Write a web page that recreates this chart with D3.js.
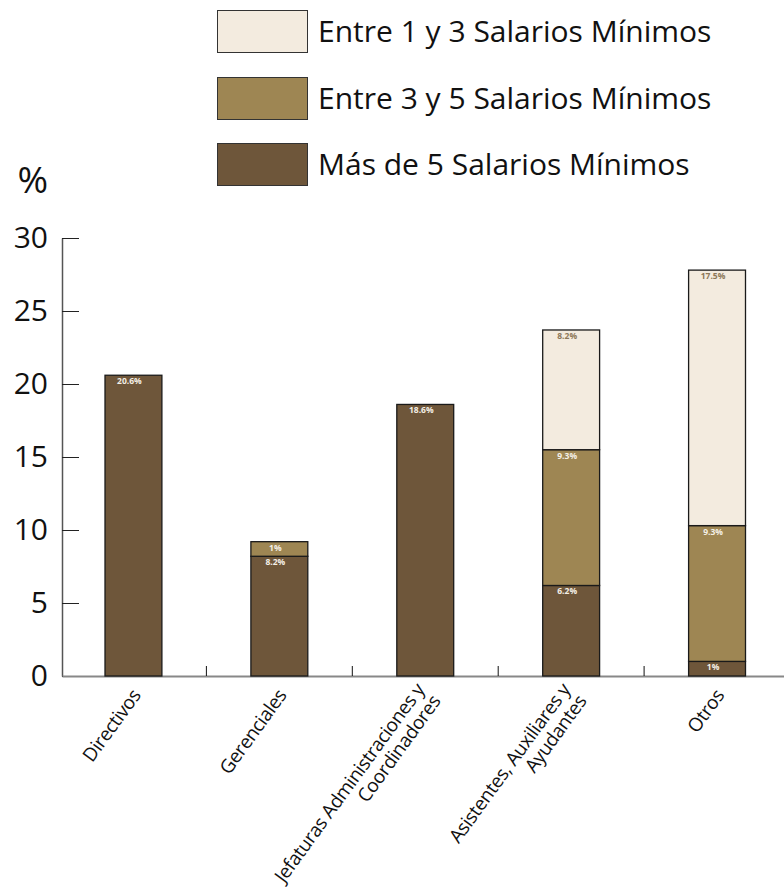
<!DOCTYPE html>
<html>
<head>
<meta charset="utf-8">
<script src="https://cdn.jsdelivr.net/npm/d3@7"></script>
<style>
  body { margin: 0; background: #fff; }
  text { font-family: "Open Sans", sans-serif; }
</style>
</head>
<body>
<svg id="chart" width="784" height="887"></svg>
<script>
// categories and their wrapped labels
const categories = ["Directivos", "Gerenciales", "Jefaturas", "Asistentes", "Otros"];
const labelLines = [
  ["Directivos"],
  ["Gerenciales"],
  ["Jefaturas Administraciones y", "Coordinadores"],
  ["Asistentes, Auxiliares y", "Ayudantes"],
  ["Otros"],
];

// series values (%)
const masDe5 = [20.6, 8.2, 18.6, 6.2, 1];
const entre3y5 = [0, 1, 0, 9.3, 9.3];
const entre1y3 = [0, 0, 0, 8.2, 17.5];

const seriesNames = ["Más de 5 Salarios Mínimos", "Entre 3 y 5 Salarios Mínimos", "Entre 1 y 3 Salarios Mínimos"];
const yTicks = [0, 5, 10, 15, 20, 25, 30];

const fills = ["#6e563a", "#9e8653", "#f3ebdf"];
const labelColors = ["#f4efe6", "#f4efe6", "#8c7758"];

const svg = d3.select("#chart");

const x = d3.scaleBand()
  .domain(categories)
  .range([60.5, 790])
  .paddingInner(0.61)
  .paddingOuter(0.305);

const y = d3.scaleLinear().domain([0, 30]).range([676, 238]);

// build the table for d3.stack
const table = categories.map((c, i) => ({
  cat: c,
  s0: masDe5[i],
  s1: entre3y5[i],
  s2: entre1y3[i],
}));
const stacked = d3.stack().keys(["s0", "s1", "s2"])(table);

// y axis (ticks pointing inward)
const yAxis = svg.append("g")
  .attr("transform", "translate(62,0)")
  .call(d3.axisLeft(y).tickValues(yTicks).tickSizeInner(-17).tickSizeOuter(0).tickPadding(14));
yAxis.select(".domain").attr("stroke", "#555").attr("stroke-width", 1.5);
yAxis.selectAll(".tick line").attr("stroke", "#222");
yAxis.selectAll(".tick text")
  .attr("font-size", 30)
  .attr("fill", "#111")
  .style("font-family", "Open Sans");

svg.append("text")
  .attr("x", 48)
  .attr("y", 193)
  .attr("text-anchor", "end")
  .attr("font-size", 37)
  .attr("fill", "#111")
  .text("%");

// x axis line
const xAxis = svg.append("g")
  .attr("transform", "translate(0,676)")
  .call(d3.axisBottom(d3.scaleLinear().range([62, 784])).tickValues([]).tickSizeOuter(0));
xAxis.select(".domain").attr("stroke", "#888").attr("stroke-width", 2);

// ticks between categories
svg.append("g")
  .selectAll("line")
  .data(categories.slice(1))
  .join("line")
  .attr("x1", (d) => x(d) - (x.step() - x.bandwidth()) / 2)
  .attr("x2", (d) => x(d) - (x.step() - x.bandwidth()) / 2)
  .attr("y1", 666)
  .attr("y2", 676)
  .attr("stroke", "#111")
  .attr("stroke-width", 1);

// bars
stacked.forEach((layer, si) => {
  const g = svg.append("g");
  const segs = layer.filter((d) => d[1] - d[0] > 0);
  g.selectAll("rect")
    .data(segs)
    .join("rect")
    .attr("x", (d) => x(d.data.cat))
    .attr("y", (d) => y(d[1]))
    .attr("width", x.bandwidth())
    .attr("height", (d) => y(d[0]) - y(d[1]))
    .attr("fill", fills[si])
    .attr("stroke", "#1a1a1a")
    .attr("stroke-width", 1.3);

  g.selectAll("text")
    .data(segs)
    .join("text")
    .attr("x", (d) => x(d.data.cat) + x.bandwidth() / 2 - 4)
    .attr("y", (d) => y(d[1]) + 9)
    .attr("text-anchor", "middle")
    .attr("font-size", 8.5)
    .attr("font-weight", "bold")
    .attr("fill", labelColors[si])
    .text((d) => `${+(d[1] - d[0]).toFixed(1)}%`);
});

// category labels, rotated
const angle = -54;
const lineH = 20;
categories.forEach((c, i) => {
  const lines = labelLines[i];
  const cx = x(c) + x.bandwidth() / 2;
  const g = svg.append("g")
    .attr("transform", `translate(${cx},676) rotate(${angle}) translate(-11,18)`);
  lines.forEach((ln, k) => {
    g.append("text")
      .attr("x", 0)
      .attr("y", (k - (lines.length - 1) / 2) * lineH)
      .attr("text-anchor", "end")
      .attr("font-size", 19)
      .attr("letter-spacing", -0.4)
      .attr("fill", "#111")
      .text(ln);
  });
});

// legend (top entry is the lightest series)
const legendOrder = [2, 1, 0];
const legendY = [10, 77, 143];
const legend = svg.append("g");
legendOrder.forEach((si, k) => {
  legend.append("rect")
    .attr("x", 217.5)
    .attr("y", legendY[k] + 0.5)
    .attr("width", 90)
    .attr("height", 42)
    .attr("fill", fills[si])
    .attr("stroke", "#333")
    .attr("stroke-width", 1);
  legend.append("text")
    .attr("x", 318)
    .attr("y", legendY[k] + 32)
    .attr("font-size", 30)
    .attr("fill", "#111")
    .text(seriesNames[si]);
});
</script>
</body>
</html>
